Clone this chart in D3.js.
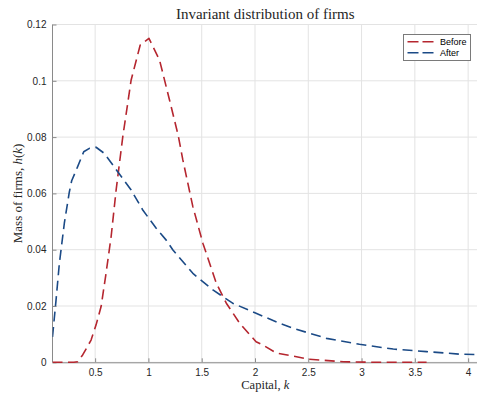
<!DOCTYPE html>
<html>
<head>
<meta charset="utf-8">
<script src="https://cdn.jsdelivr.net/npm/d3@7"></script>
<style>
  html, body { margin: 0; padding: 0; background: #ffffff; }
  svg { display: block; }
</style>
</head>
<body>
<svg id="chart" width="477" height="396"></svg>
<script>
// ---- data ----
const beforeK = [0.1, 0.2, 0.3, 0.336, 0.383, 0.462, 0.509, 0.556, 0.6, 0.65, 0.697, 0.759, 0.838, 0.923, 1.005, 1.104, 1.198, 1.28, 1.323, 1.417, 1.511, 1.637, 1.731, 1.856, 2.01, 2.075, 2.2, 2.51, 2.83, 3.1, 3.61];
const beforeH = [0, 0, 0, 0.0002, 0.0026, 0.0079, 0.0133, 0.0198, 0.031, 0.0446, 0.0612, 0.08, 0.1003, 0.1127, 0.1151, 0.1074, 0.0932, 0.0805, 0.0719, 0.0553, 0.0423, 0.0281, 0.021, 0.0139, 0.0073, 0.0061, 0.0033, 0.0011, 0.0002, 0, 0];
const afterK = [0.1, 0.133, 0.164, 0.211, 0.258, 0.28, 0.336, 0.393, 0.446, 0.509, 0.587, 0.712, 0.838, 0.947, 1.073, 1.167, 1.23, 1.417, 1.605, 1.79, 2.01, 2.216, 2.357, 2.671, 2.98, 3.297, 3.61, 3.92, 4.1];
const afterH = [0.009, 0.022, 0.035, 0.0494, 0.0605, 0.0645, 0.0695, 0.0748, 0.076, 0.0764, 0.0742, 0.0677, 0.0612, 0.0541, 0.0476, 0.0434, 0.0399, 0.0316, 0.0257, 0.021, 0.0174, 0.0141, 0.0121, 0.0085, 0.0064, 0.0047, 0.0038, 0.0029, 0.0027];
const seriesNames = ["Before", "After"];
const xTickValues = [0.5, 1, 1.5, 2, 2.5, 3, 3.5, 4];
const xTickLabels = ["0.5", "1", "1.5", "2", "2.5", "3", "3.5", "4"];
const yTickValues = [0, 0.02, 0.04, 0.06, 0.08, 0.1, 0.12];
const yTickLabels = ["0", "0.02", "0.04", "0.06", "0.08", "0.1", "0.12"];

// ---- layout ----
const W = 477, H = 396;
const pL = 52.5, pR = 478.8, pT = 24.5, pB = 362.3;
const colors = ["#B5262F", "#1B4A86"];

const svg = d3.select("#chart");
const x = d3.scaleLinear().domain([0.1, 4.1]).range([pL, pR]);
const y = d3.scaleLinear().domain([0, 0.12]).range([pB, pT]);

svg.append("defs").append("clipPath").attr("id", "plotclip")
  .append("rect").attr("x", pL).attr("y", pT - 2).attr("width", pR - pL).attr("height", pB - pT + 4);

// grid
const grid = svg.append("g");
grid.selectAll("line.gx").data(xTickValues).join("line")
  .attr("x1", d => x(d)).attr("x2", d => x(d)).attr("y1", pT).attr("y2", pB)
  .attr("stroke", "#e3e3e3").attr("stroke-width", 1);
grid.selectAll("line.gy").data(yTickValues).join("line")
  .attr("x1", pL).attr("x2", W).attr("y1", d => y(d)).attr("y2", d => y(d))
  .attr("stroke", "#e3e3e3").attr("stroke-width", 1);

// axes
const xAxis = d3.axisBottom(x).tickValues(xTickValues)
  .tickFormat((d, i) => xTickLabels[i]).tickSizeInner(-4).tickSizeOuter(0).tickPadding(7);
const gx = svg.append("g").attr("transform", `translate(0,${pB})`).call(xAxis);
gx.select(".domain").attr("stroke", "#8a8a8a").attr("d", `M${pL},0.5H${W}`);
gx.selectAll(".tick line").attr("stroke", "#8a8a8a");
gx.selectAll(".tick text").attr("fill", "#262626")
  .style("font-family", "'Liberation Sans', Arial, sans-serif").style("font-size", "10px");

const yAxis = d3.axisLeft(y).tickValues(yTickValues)
  .tickFormat((d, i) => yTickLabels[i]).tickSizeInner(-4).tickSizeOuter(0).tickPadding(6);
const gy = svg.append("g").attr("transform", `translate(${pL},0)`).call(yAxis);
gy.select(".domain").attr("stroke", "#8a8a8a").attr("d", `M0,${pT}V${pB}`);
gy.selectAll(".tick line").attr("stroke", "#8a8a8a");
gy.selectAll(".tick text").attr("fill", "#262626")
  .style("font-family", "'Liberation Sans', Arial, sans-serif").style("font-size", "10px");

// lines
const line = d3.line().x(d => x(d[0])).y(d => y(d[1]));
const series = [
  beforeK.map((k, i) => [k, beforeH[i]]),
  afterK.map((k, i) => [k, afterH[i]])
];
const plot = svg.append("g").attr("clip-path", "url(#plotclip)");
plot.selectAll("path.series").data(series).join("path")
  .attr("class", "series")
  .attr("d", line)
  .attr("fill", "none")
  .attr("stroke", (d, i) => colors[i])
  .attr("stroke-width", 1.6)
  .attr("stroke-dasharray", "10,5.5")
  .attr("stroke-linejoin", "round");

// title
svg.append("text").attr("x", (pL + 478) / 2).attr("y", 18.5)
  .attr("text-anchor", "middle")
  .style("font-family", "'Liberation Serif', 'Times New Roman', serif")
  .style("font-size", "15px").attr("fill", "#262626")
  .text("Invariant distribution of firms");

// x label
const xl = svg.append("text").attr("x", (pL + 478) / 2).attr("y", 388.5)
  .attr("text-anchor", "middle")
  .style("font-family", "'Liberation Serif', 'Times New Roman', serif")
  .style("font-size", "12.5px").attr("fill", "#262626");
xl.append("tspan").text("Capital, ");
xl.append("tspan").style("font-style", "italic").text("k");

// y label
const yl = svg.append("text")
  .attr("transform", `translate(22,${(pT + pB) / 2}) rotate(-90)`)
  .attr("text-anchor", "middle")
  .style("font-family", "'Liberation Serif', 'Times New Roman', serif")
  .style("font-size", "13px").attr("fill", "#262626");
yl.append("tspan").text("Mass of firms, ");
yl.append("tspan").style("font-style", "italic").text("h");
yl.append("tspan").text("(");
yl.append("tspan").style("font-style", "italic").text("k");
yl.append("tspan").text(")");

// legend
const lg = svg.append("g");
lg.append("rect").attr("x", 403.5).attr("y", 34.5).attr("width", 67).attr("height", 26)
  .attr("fill", "#ffffff").attr("stroke", "#7a7a7a").attr("stroke-width", 1);
const items = lg.selectAll("g.item").data(seriesNames).join("g").attr("class", "item")
  .attr("transform", (d, i) => `translate(0,${41.7 + i * 11})`);
items.append("line").attr("x1", 407.5).attr("x2", 433.5).attr("y1", 0).attr("y2", 0)
  .attr("stroke", (d, i) => colors[i]).attr("stroke-width", 1.6).attr("stroke-dasharray", "11,4");
items.append("text").attr("x", 440).attr("y", 0).attr("dy", "0.35em")
  .style("font-family", "'Liberation Sans', Arial, sans-serif").style("font-size", "9px")
  .attr("fill", "#000").text(d => d);
</script>
</body>
</html>
